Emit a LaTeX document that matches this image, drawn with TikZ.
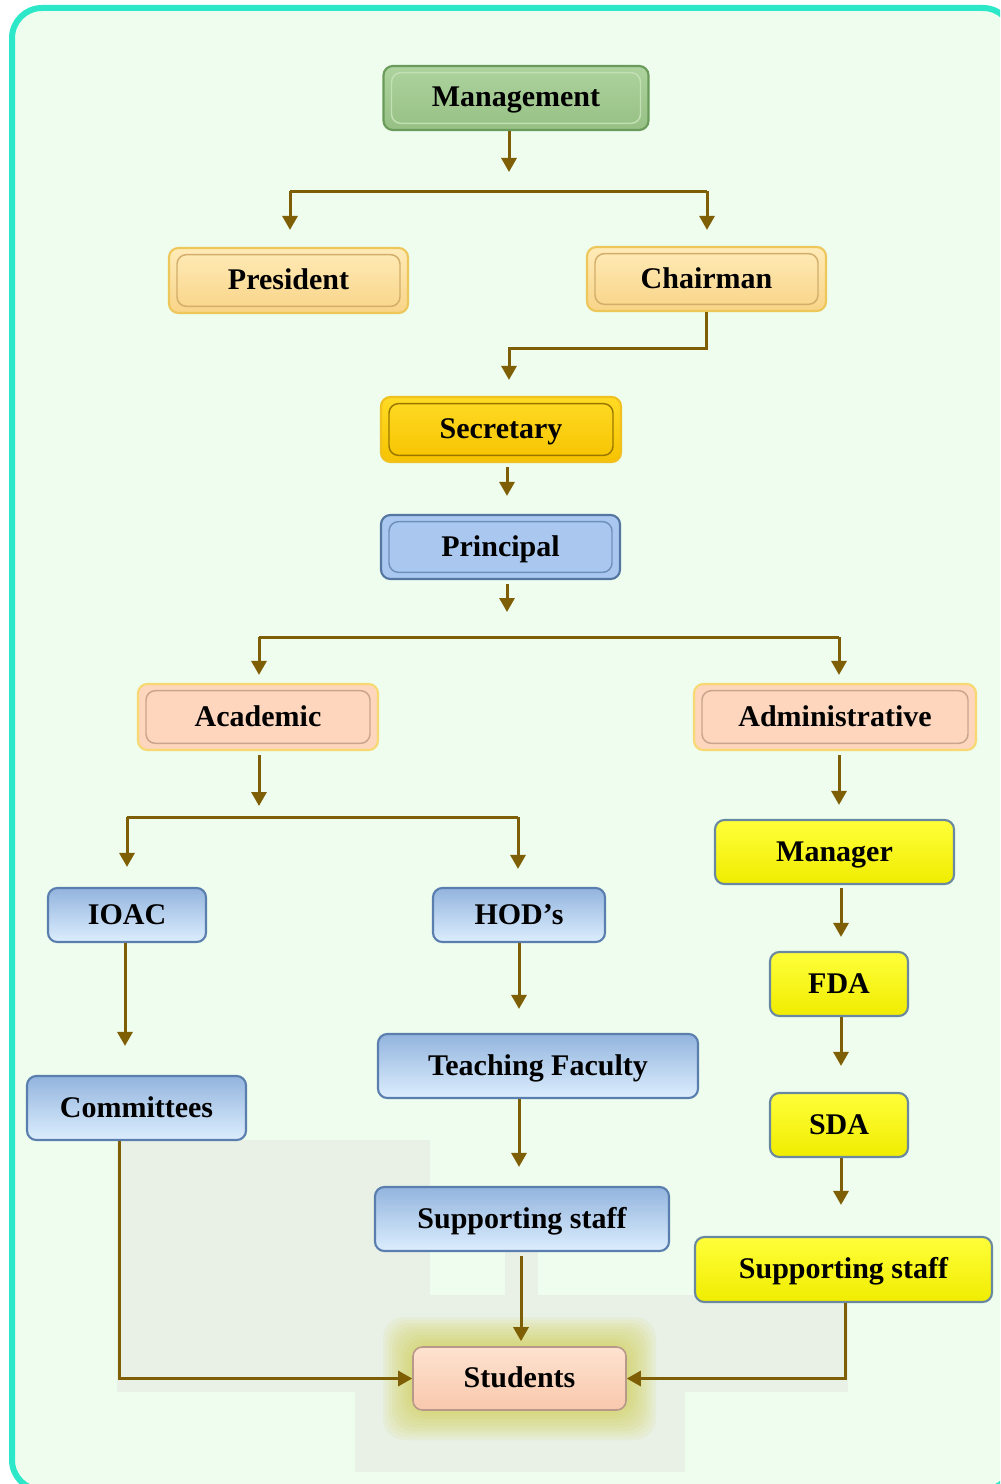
\documentclass[tikz,border=0pt]{standalone}
\usepackage{fontspec}
\setmainfont{Liberation Serif}
\usetikzlibrary{arrows.meta}
\definecolor{framec}{HTML}{2DE8C8}
\definecolor{bgc}{HTML}{EEFDEE}
\definecolor{patchc}{HTML}{E9F0E5}
\definecolor{arrowc}{HTML}{7F5F05}
\definecolor{glowc}{HTML}{CFCB3A}
\tikzset{
  lab/.style={font=\fontsize{22.5}{26}\selectfont\bfseries, text=black, inner sep=0pt,
    text height=15pt, text depth=1.5pt,
    rounded corners=7pt, line width=1.6pt, rectangle},
  innerframe/.style={path picture={\draw[#1, line width=1.1pt]
      ([shift={(6pt,-5pt)}]path picture bounding box.north west) rectangle
      ([shift={(-6pt,5pt)}]path picture bounding box.south east);}},
  greenbox/.style={lab, draw=HTMLgb, top color=HTMLgt, bottom color=HTMLgbt, innerframe=HTMLgi},
  creambox/.style={lab, draw=HTMLcb, top color=HTMLct, bottom color=HTMLcbt, innerframe=HTMLci},
  goldbox/.style={lab, draw=HTMLsb, top color=HTMLst, bottom color=HTMLsbt, innerframe=HTMLsi},
  princbox/.style={lab, draw=HTMLpb, fill=HTMLpf, innerframe=HTMLpi},
  peachbox/.style={lab, draw=HTMLab, fill=HTMLaf, innerframe=HTMLai},
  lbluebox/.style={lab, draw=HTMLlb, top color=HTMLlt, bottom color=HTMLlbt},
  yelbox/.style={lab, draw=HTMLyb, top color=HTMLyt, bottom color=HTMLybt},
  studbox/.style={lab, draw=HTMLtb, top color=HTMLtt, bottom color=HTMLtbt, line width=1.2pt},
  ln/.style={draw=arrowc, line width=2.25pt},
  arr/.style={ln, -{Triangle[width=11.25pt,length=10.5pt]}},
}
\definecolor{HTMLgb}{HTML}{6B9B5A}\definecolor{HTMLgt}{HTML}{AED39E}\definecolor{HTMLgbt}{HTML}{96C084}\definecolor{HTMLgi}{HTML}{C3DFB4}
\definecolor{HTMLcb}{HTML}{EDC75A}\definecolor{HTMLct}{HTML}{FFEBB8}\definecolor{HTMLcbt}{HTML}{F8D487}\definecolor{HTMLci}{HTML}{D2AE6A}
\definecolor{HTMLsb}{HTML}{F0C020}\definecolor{HTMLst}{HTML}{FFDB25}\definecolor{HTMLsbt}{HTML}{F6C300}\definecolor{HTMLsi}{HTML}{9A7800}
\definecolor{HTMLpb}{HTML}{5476A0}\definecolor{HTMLpf}{HTML}{AAC8EF}\definecolor{HTMLpi}{HTML}{6F90BA}
\definecolor{HTMLab}{HTML}{F8D870}\definecolor{HTMLaf}{HTML}{FDD6BD}\definecolor{HTMLai}{HTML}{C9A48E}
\definecolor{HTMLlb}{HTML}{5A7EAE}\definecolor{HTMLlt}{HTML}{93B4DE}\definecolor{HTMLlbt}{HTML}{DCEEFE}
\definecolor{HTMLyb}{HTML}{6A88A0}\definecolor{HTMLyt}{HTML}{FFFF3A}\definecolor{HTMLybt}{HTML}{F0EC00}
\definecolor{HTMLtb}{HTML}{B89888}\definecolor{HTMLtt}{HTML}{FEE2D0}\definecolor{HTMLtbt}{HTML}{F8C8AC}
\begin{document}
\begin{tikzpicture}[x=0.75pt,y=-0.75pt]
\useasboundingbox (0,0) rectangle (1000,1484);
\clip (0,0) rectangle (1000,1484);
\fill[white] (0,0) rectangle (1000,1484);
% frame
\draw[line width=4.5pt, draw=framec, fill=bgc, rounded corners=22.5pt] (12,8) rectangle (1013,1490);
% faint patches
\fill[patchc] (117,1140) rectangle (430,1392);
\fill[patchc] (430,1295) rectangle (848,1392);
\fill[patchc] (355,1392) rectangle (685,1472);
\fill[patchc] (505,1252) rectangle (538,1295);
% glow around Students
\foreach \e in {3,6,...,30}{
  \fill[glowc, opacity=0.08, rounded corners=16pt] (413-\e,1347-\e) rectangle (626+\e,1410+\e);
}
% nodes
\node[greenbox, minimum width=198.75pt, minimum height=48pt] (mgmt) at (516,98) {Management};
\node[creambox, minimum width=179.25pt, minimum height=48.75pt] (pres) at (288.5,280.5) {President};
\node[creambox, minimum width=179.25pt, minimum height=48pt] (chair) at (706.5,279) {Chairman};
\node[goldbox, minimum width=180pt, minimum height=48.75pt] (secr) at (501,429.5) {Secretary};
\node[princbox, minimum width=179.25pt, minimum height=48pt] (prin) at (500.5,547) {Principal};
\node[peachbox, minimum width=180pt, minimum height=49.5pt] (acad) at (258,717) {Academic};
\node[peachbox, minimum width=211.5pt, minimum height=49.5pt] (admin) at (835,717) {Administrative};
\node[lbluebox, minimum width=118.5pt, minimum height=40.5pt] (ioac) at (127,915) {IOAC};
\node[lbluebox, minimum width=129pt, minimum height=40.5pt] (hod) at (519,915) {HOD’s};
\node[lbluebox, minimum width=164.25pt, minimum height=48pt] (comm) at (136.5,1108) {Committees};
\node[lbluebox, minimum width=240pt, minimum height=48pt] (teach) at (538,1066) {Teaching Faculty};
\node[lbluebox, minimum width=220.5pt, minimum height=48pt] (supa) at (522,1219) {Supporting staff};
\node[yelbox, minimum width=179.25pt, minimum height=48pt] (mgr) at (834.5,852) {Manager};
\node[yelbox, minimum width=103.5pt, minimum height=48pt] (fda) at (839,984) {FDA};
\node[yelbox, minimum width=103.5pt, minimum height=48pt] (sda) at (839,1125) {SDA};
\node[yelbox, minimum width=222.75pt, minimum height=48.75pt] (supb) at (843.5,1269.5) {Supporting staff};
\node[studbox, minimum width=159.75pt, minimum height=47.25pt] (stud) at (519.5,1378.5) {Students};
% helper coordinates
\coordinate (c1) at (509,172);
\coordinate (j1L) at (290,191);
\coordinate (j1R) at (707,191);
\coordinate (k1) at (706,348);
\coordinate (k2) at (509,348);
\coordinate (xs) at (507,0);
\coordinate (c2) at (507,612);
\coordinate (j2L) at (259,637);
\coordinate (j2R) at (839,637);
\coordinate (c3) at (259,806);
\coordinate (j3L) at (127,817);
\coordinate (j3R) at (518,817);
\coordinate (xi) at (125,0);
\coordinate (xh) at (519,0);
\coordinate (xsu) at (521,0);
\coordinate (xc) at (119,0);
\coordinate (xad) at (839,0);
\coordinate (xr) at (841,0);
\coordinate (xsb) at (845,0);
% connectors
\draw[arr] (mgmt.south -| c1) -- (c1);
\draw[ln] (j1L) -- (j1R);
\draw[arr, shorten >=12.75pt] (j1L) -- (j1L |- pres.north);
\draw[arr, shorten >=12pt] (j1R) -- (j1R |- chair.north);
\draw[arr, shorten >=12pt] (chair.south -| k1) -- (k1) -- (k2) -- (k2 |- secr.north);
\draw[arr, shorten <=3pt, shorten >=13.5pt] (secr.south -| xs) -- (prin.north -| xs);
\draw[arr, shorten <=3pt] (prin.south -| c2) -- (c2);
\draw[ln] (j2L) -- (j2R);
\draw[arr, shorten >=6pt] (j2L) -- (j2L |- acad.north);
\draw[arr, shorten >=6pt] (j2R) -- (j2R |- admin.north);
\draw[arr, shorten <=3pt] (acad.south -| c3) -- (c3);
\draw[ln] (j3L) -- (j3R);
\draw[arr, shorten >=15pt] (j3L) -- (j3L |- ioac.north);
\draw[arr, shorten >=13.5pt] (j3R) -- (j3R |- hod.north);
\draw[arr, shorten >=21.75pt] (ioac.south -| xi) -- (comm.north -| xi);
\draw[arr, shorten >=18pt] (hod.south -| xh) -- (teach.north -| xh);
\draw[arr, shorten >=14.25pt] (teach.south -| xh) -- (supa.north -| xh);
\draw[arr, shorten <=3pt, shorten >=3.75pt] (supa.south -| xsu) -- (stud.north -| xsu);
\draw[arr] (comm.south -| xc) |- (stud.west);
\draw[arr, shorten <=3pt, shorten >=10.5pt] (admin.south -| xad) -- (mgr.north -| xad);
\draw[arr, shorten <=2pt, shorten >=10.5pt] (mgr.south -| xr) -- (fda.north -| xr);
\draw[arr, shorten >=19.5pt] (fda.south -| xr) -- (sda.north -| xr);
\draw[arr, shorten >=23.25pt] (sda.south -| xr) -- (supb.north -| xr);
\draw[arr] (supb.south -| xsb) |- (stud.east);
\end{tikzpicture}
\end{document}
